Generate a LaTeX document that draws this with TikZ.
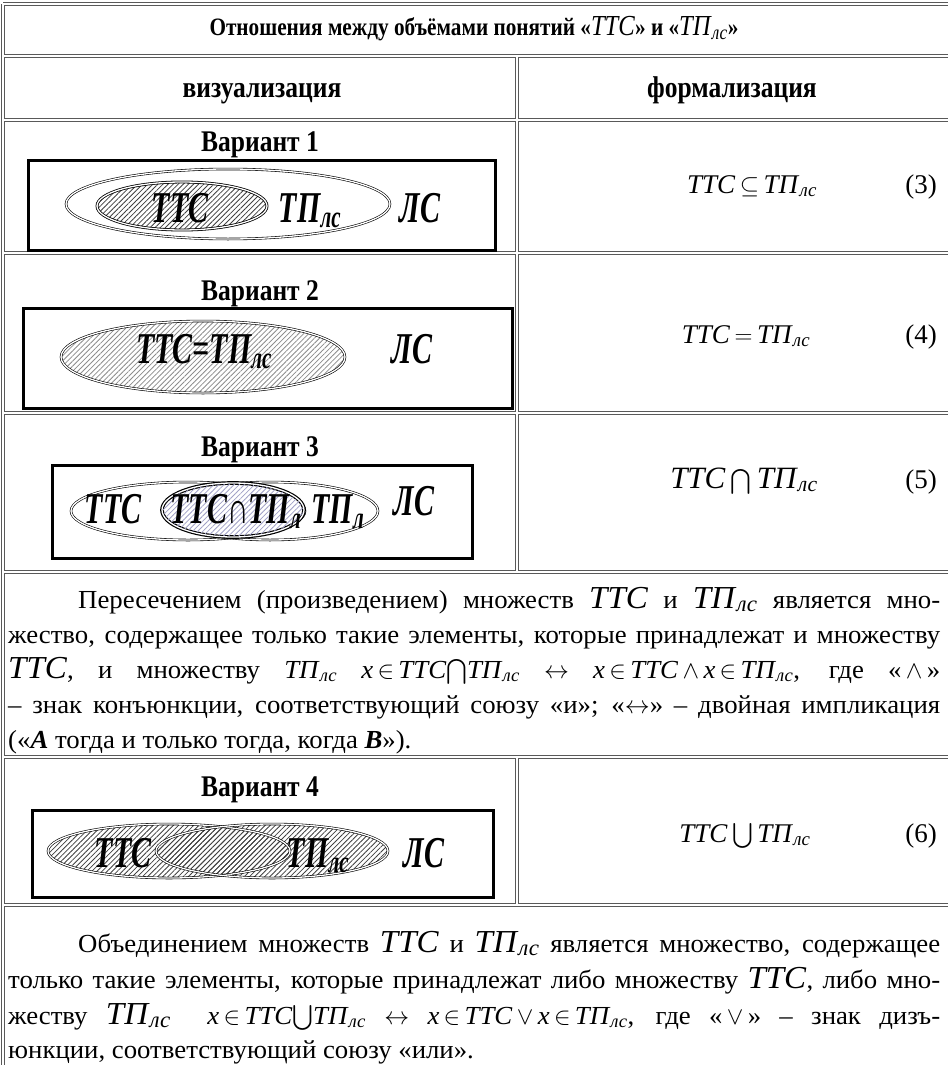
\documentclass[tikz,border=0pt]{standalone}
\usepackage{amsmath}
\usepackage{fontspec}
\setmainfont{Liberation Serif}
\newfontfamily\lblfont[FakeStretch=0.68]{Liberation Serif}
\newfontfamily\hdfont[FakeStretch=0.85]{Liberation Serif}
\newfontfamily\bodyfont[FakeStretch=1.03]{Liberation Serif}
\usetikzlibrary{patterns.meta}
\newcommand{\Lsub}[1]{\textsubscript{\textit{#1}}}
\newcommand{\TTC}{\textit{ТТС}}
\newcommand{\TPls}{\textit{ТП}\Lsub{лс}}
\newcommand{\Bgm}[1]{{\fontsize{32}{32}\selectfont #1}}
\tikzset{
  tlineout/.style={draw=black!65, line width=3.2pt},
  tlinein/.style={draw=white, line width=1.4pt},
  vbox/.style={draw=black, line width=3pt},
  ell/.style={draw=black, line width=0.6pt, double=white, double distance=1.3pt},
  hatch/.style={pattern={Lines[angle=45,distance=3.6pt,line width=0.8pt]}, pattern color=black!75},
  lighthatch/.style={pattern={Lines[angle=45,distance=3.6pt,line width=0.8pt]}, pattern color=black!45},
  bluehatch/.style={pattern={Lines[angle=45,distance=3.6pt,line width=0.8pt]}, pattern color=blue!25!gray!60},
  lbl/.style={font=\lblfont\bfseries\itshape\fontsize{44}{44}\selectfont, inner sep=0pt, anchor=base},
  hdr/.style={font=\hdfont\bfseries\fontsize{30}{34}\selectfont, inner sep=0pt, anchor=base},
  ttl/.style={font=\hdfont\bfseries\fontsize{25}{30}\selectfont, inner sep=0pt, anchor=base},
  frm/.style={font=\fontsize{27}{30}\selectfont, inner sep=0pt, anchor=base},
  body/.style={font=\bodyfont\fontsize{26}{30}\selectfont, inner sep=0pt, anchor=base west},
}
\begin{document}
\begin{tikzpicture}[x=1pt,y=-1pt]
\useasboundingbox (0,0) rectangle (948,1065);
\fill[white] (0,0) rectangle (948,1065);
% ---- table frame (double rules)
\coordinate (tl) at (3,4);
\coordinate (tr) at (948,4);
\coordinate (bl) at (3,1065);
\foreach \st in {tlineout,tlinein}{
  \draw[\st] (tl) -- (tr);
  \foreach \yy in {56,120,253,413,572,757,905} \draw[\st] (3,\yy) -- (948,\yy);
  \draw[\st] (517,56) -- (517,572);
  \draw[\st] (517,757) -- (517,905);
  \draw[\st] (tl) -- (bl);
}
% ---- headers
\node[ttl] (title) at (474,36) {Отношения между объёмами понятий «{\mdseries\fontsize{29}{29}\selectfont\TTC}» и «{\mdseries\fontsize{29}{29}\selectfont\TPls}»};
\node[hdr] (hvis) at (262,97) {визуализация};
\node[hdr] (hform) at (732,97) {формализация};
% ---- variant 1
\node[hdr] (v1) at (260,151) {Вариант 1};
\draw[vbox] (28,160) rectangle (495,250);
\draw[ell, fill=white] (228,204) ellipse [x radius=162, y radius=35];
\draw[ell, hatch] (182,206) ellipse [x radius=85, y radius=24];
\node[lbl] (l1a) at (180,222) {ТТС};
\node[lbl] (l1b) at (310,222) {ТП\textsubscript{лс}};
\node[lbl] (l1c) at (420,222) {ЛС};
\node[frm] (f3) at (752,193) {\TTC\,$\subseteq$\,\TPls};
\node[frm] (n3) at (921,193) {(3)};
% ---- variant 2
\node[hdr] (v2) at (260,300) {Вариант 2};
\draw[vbox] (23,308) rectangle (512,408);
\draw[ell, lighthatch] (203,357) ellipse [x radius=142, y radius=36];
\node[lbl] (l2a) at (204,363) {ТТС=ТП\textsubscript{лс}};
\node[lbl] (l2b) at (412,363) {ЛС};
\node[frm] (f4) at (746,343) {\TTC\,$=$\,\TPls};
\node[frm] (n4) at (921,343) {(4)};
% ---- variant 3
\node[hdr] (v3) at (260,456) {Вариант 3};
\draw[vbox] (52,465) rectangle (472,558);
\draw[ell] (188,511) ellipse [x radius=117, y radius=29];
\draw[ell] (270,511) ellipse [x radius=108, y radius=29];
\draw[ell, line width=1.2pt, fill=white] (233,510) ellipse [x radius=71, y radius=27];
\path[bluehatch] (233,510) ellipse [x radius=70, y radius=26];
\node[lbl] (l3a) at (113,523) {ТТС};
\node[lbl] (l3b) at (236,523) {ТТС∩ТП\textsubscript{л}};
\node[lbl] (l3c) at (338,523) {ТП\textsubscript{л}};
\node[lbl] (l3d) at (414,515) {ЛС};
\node[frm, font=\fontsize{31}{33}\selectfont] (f5) at (744,488) {\TTC\,$\bigcap$\,\TPls};
\node[frm] (n5) at (921,488) {(5)};
% ---- paragraph 1
\node[body] (p1a) at (78,608) {\makebox[862pt][s]{Пересечением (произведением) множеств \Bgm{\TTC} и \Bgm{\TPls} является мно-}};
\node[body] (p1b) at (8,643) {\makebox[932pt][s]{жество, содержащее только такие элементы, которые принадлежат и множеству}};
\node[body] (p1c) at (8,678) {\makebox[932pt][s]{\Bgm{\TTC}, и множеству \TPls{} \textit{x}\,$\in$\,\TTC$\bigcap$\TPls{} $\leftrightarrow$ \textit{x}\,$\in$\,\TTC\,$\wedge$\,\textit{x}\,$\in$\,\TPls{}, где «\,$\wedge$\,»}};
\node[body] (p1d) at (8,713) {\makebox[932pt][s]{– знак конъюнкции, соответствующий союзу «и»; «$\leftrightarrow$» – двойная импликация}};
\node[body] (p1e) at (8,748) {(«\textbf{\textit{A}} тогда и только тогда, когда \textbf{\textit{B}}»).};
% ---- variant 4
\node[hdr] (v4) at (260,796) {Вариант 4};
\draw[vbox] (32,810) rectangle (493,897);
\path[hatch] (169,851) ellipse [x radius=121, y radius=27];
\path[hatch] (272,851) ellipse [x radius=116, y radius=27];
\draw[ell] (169,851) ellipse [x radius=121, y radius=27];
\draw[ell] (272,851) ellipse [x radius=116, y radius=27];
\node[lbl] (l4a) at (123,867) {ТТС};
\node[lbl] (l4b) at (318,867) {ТП\textsubscript{лс}};
\node[lbl] (l4c) at (424,867) {ЛС};
\node[frm] (f6) at (745,842) {\TTC\,$\bigcup$\,\TPls};
\node[frm] (n6) at (921,842) {(6)};
% ---- paragraph 2
\node[body] (p2a) at (78,952) {\makebox[862pt][s]{Объединением множеств \Bgm{\TTC} и \Bgm{\TPls} является множество, содержащее}};
\node[body] (p2b) at (8,988) {\makebox[932pt][s]{только такие элементы, которые принадлежат либо множеству \Bgm{\TTC}, либо мно-}};
\node[body] (p2c) at (8,1024) {\makebox[932pt][s]{жеству \Bgm{\TPls} \ \textit{x}\,$\in$\,\TTC$\bigcup$\TPls{} $\leftrightarrow$ \textit{x}\,$\in$\,\TTC\,$\vee$\,\textit{x}\,$\in$\,\TPls{}, где «\,$\vee$\,» – знак дизъ-}};
\node[body] (p2d) at (8,1058) {юнкции, соответствующий союзу «или».};
\end{tikzpicture}
\end{document}
